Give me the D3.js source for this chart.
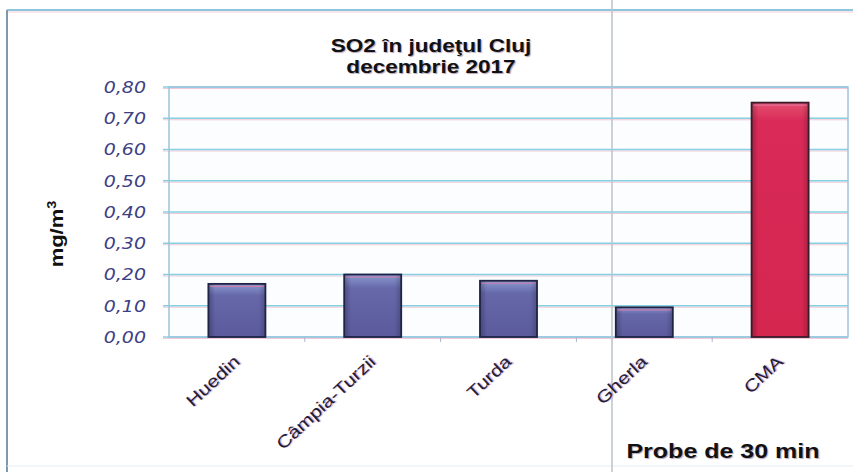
<!DOCTYPE html>
<html>
<head>
<meta charset="utf-8">
<script src="https://cdn.jsdelivr.net/npm/d3@7"></script>
<style>
  body { margin: 0; background: #fff; }
  svg { display: block; font-family: "Liberation Sans", Arial, sans-serif; }
</style>
</head>
<body>
<svg id="chart" width="853" height="472"></svg>
<script>
const stations = ["Huedin", "Câmpia-Turzii", "Turda", "Gherla", "CMA"];
const so2Values = [0.17, 0.20, 0.18, 0.095, 0.75];
const yTicks = [0, 0.1, 0.2, 0.3, 0.4, 0.5, 0.6, 0.7, 0.8];
const titleLines = ["SO2 în judeţul Cluj", "decembrie 2017"];

// the scanned chart is stretched sideways, text included
const STRETCH = 1.22;

const svg = d3.select("#chart");
const plot = {left: 169, right: 848, top: 87, bottom: 337};

const x = d3.scaleBand()
  .domain(stations)
  .range([plot.left, plot.right])
  .paddingInner(0.58)
  .paddingOuter(0.29);

const y = d3.scaleLinear()
  .domain([0, 0.8])
  .range([plot.bottom, plot.top]);

// gradients for the bars
const defs = svg.append("defs");
const blue = defs.append("linearGradient").attr("id", "blueBar").attr("x1", 0).attr("y1", 0).attr("x2", 0).attr("y2", 1);
blue.append("stop").attr("offset", "0%").attr("stop-color", "#8a9ad0");
blue.append("stop").attr("offset", "22%").attr("stop-color", "#6668aa");
blue.append("stop").attr("offset", "100%").attr("stop-color", "#5a5a9c");
const red = defs.append("linearGradient").attr("id", "redBar").attr("x1", 0).attr("y1", 0).attr("x2", 0).attr("y2", 1);
red.append("stop").attr("offset", "0%").attr("stop-color", "#e4506f");
red.append("stop").attr("offset", "8%").attr("stop-color", "#d92a58");
red.append("stop").attr("offset", "100%").attr("stop-color", "#d4264f");
const shade = defs.append("linearGradient").attr("id", "sideShade");
shade.append("stop").attr("offset", "0%").attr("stop-color", "#000").attr("stop-opacity", 0.25);
shade.append("stop").attr("offset", "12%").attr("stop-color", "#000").attr("stop-opacity", 0);
shade.append("stop").attr("offset", "88%").attr("stop-color", "#000").attr("stop-opacity", 0);
shade.append("stop").attr("offset", "100%").attr("stop-color", "#000").attr("stop-opacity", 0.2);

// scanned page frame
svg.append("line").attr("x1", 7).attr("x2", 853).attr("y1", 10).attr("y2", 10)
  .attr("stroke", "#8ec6dc").attr("stroke-width", 2);
svg.append("line").attr("x1", 7).attr("x2", 853).attr("y1", 12).attr("y2", 12)
  .attr("stroke", "#e7a9c0").attr("stroke-width", 1).attr("opacity", 0.6);
svg.append("line").attr("x1", 7).attr("x2", 7).attr("y1", 10).attr("y2", 472)
  .attr("stroke", "#7f98ad").attr("stroke-width", 2);
svg.append("line").attr("x1", 7).attr("x2", 853).attr("y1", 466).attr("y2", 466)
  .attr("stroke", "#e6eef3").attr("stroke-width", 1);

// plot background and gridlines
svg.append("rect")
  .attr("x", plot.left).attr("y", plot.top)
  .attr("width", plot.right - plot.left).attr("height", plot.bottom - plot.top)
  .attr("fill", "#fbfdff");

const grid = svg.append("g");
grid.selectAll("line.pink").data(yTicks).join("line")
  .attr("class", "pink")
  .attr("x1", plot.left - 6).attr("x2", plot.right)
  .attr("y1", d => y(d) + 1.5).attr("y2", d => y(d) + 1.5)
  .attr("stroke", "#efb3c8").attr("stroke-width", 1).attr("opacity", 0.7);
grid.selectAll("line.cyan").data(yTicks).join("line")
  .attr("class", "cyan")
  .attr("x1", plot.left - 6).attr("x2", plot.right)
  .attr("y1", d => y(d)).attr("y2", d => y(d))
  .attr("stroke", "#86d0e2").attr("stroke-width", 1.6);

svg.append("rect")
  .attr("x", plot.left).attr("y", plot.top)
  .attr("width", plot.right - plot.left).attr("height", plot.bottom - plot.top)
  .attr("fill", "none").attr("stroke", "#9cc4dc").attr("stroke-width", 1.5);

// fold line of the scan
svg.append("line").attr("x1", 612).attr("x2", 612).attr("y1", 0).attr("y2", 472)
  .attr("stroke", "#b9c3cb").attr("stroke-width", 1.5);

// category tick marks between the bars
svg.append("g").selectAll("line").data(stations.slice(1)).join("line")
  .attr("x1", d => x(d) + x.bandwidth() / 2 - x.step() / 2)
  .attr("x2", d => x(d) + x.bandwidth() / 2 - x.step() / 2)
  .attr("y1", plot.bottom).attr("y2", plot.bottom + 5)
  .attr("stroke", "#a9b5cc").attr("stroke-width", 1);

// bars
const bars = svg.append("g");
bars.selectAll("rect.bar").data(stations).join("rect")
  .attr("class", "bar")
  .attr("x", d => x(d))
  .attr("y", (d, i) => y(so2Values[i]))
  .attr("width", x.bandwidth())
  .attr("height", (d, i) => y(0) - y(so2Values[i]))
  .attr("fill", d => d === "CMA" ? "url(#redBar)" : "url(#blueBar)");
bars.selectAll("rect.shade").data(stations).join("rect")
  .attr("class", "shade")
  .attr("x", d => x(d))
  .attr("y", (d, i) => y(so2Values[i]))
  .attr("width", x.bandwidth())
  .attr("height", (d, i) => y(0) - y(so2Values[i]))
  .attr("fill", "url(#sideShade)")
  .attr("stroke", d => d === "CMA" ? "#3b1a2a" : "#1f2344")
  .attr("stroke-width", 1.8);
// pink highlight under the top edge
bars.selectAll("line").data(stations).join("line")
  .attr("x1", d => x(d) + 2).attr("x2", d => x(d) + x.bandwidth() - 2)
  .attr("y1", (d, i) => y(so2Values[i]) + 2.5).attr("y2", (d, i) => y(so2Values[i]) + 2.5)
  .attr("stroke", "#e07aa5").attr("stroke-width", 1.2).attr("opacity", 0.8);

// y tick labels
svg.append("g").selectAll("text").data(yTicks).join("text")
  .attr("transform", d => `translate(146,${y(d)}) scale(1.15,1)`)
  .attr("text-anchor", "end")
  .attr("dy", "0.36em")
  .attr("font-family", "'DejaVu Sans', Verdana, sans-serif")
  .attr("font-style", "italic")
  .attr("font-size", 16.5)
  .attr("fill", "#3e4084")
  .text(d => d3.format(".2f")(d).replace(".", ","));

// x labels
svg.append("g").selectAll("text").data(stations).join("text")
  .attr("transform", d => `translate(${x(d) + x.bandwidth() / 2 + 4},${plot.bottom + 26}) rotate(-43) scale(${STRETCH},1)`)
  .attr("text-anchor", "end")
  .attr("font-size", 17)
  .attr("fill", "#1e2038")
  .style("text-shadow", "1px 1px 1px #c7a3c8")
  .text(d => d);

// title
svg.append("g").selectAll("text").data(titleLines).join("text")
  .attr("transform", (d, i) => `translate(431,${52 + i * 21}) scale(${STRETCH},1)`)
  .attr("text-anchor", "middle")
  .attr("font-size", 18.5)
  .attr("font-weight", "bold")
  .attr("fill", "#111")
  .style("text-shadow", "1px 1px 1px #b9a6b8")
  .text(d => d);

// y axis title
const yTitle = svg.append("text")
  .attr("transform", `translate(63,234) rotate(-90) scale(${STRETCH},1)`)
  .attr("text-anchor", "middle")
  .attr("font-size", 18)
  .attr("font-weight", "bold")
  .attr("fill", "#111");
yTitle.append("tspan").text("mg/m");
yTitle.append("tspan").attr("dy", -7).attr("font-size", 12).text("3");

// x axis title
svg.append("text")
  .attr("transform", `translate(723,458) scale(${STRETCH},1)`)
  .attr("text-anchor", "middle")
  .attr("font-size", 20.5)
  .attr("font-weight", "bold")
  .attr("fill", "#111")
  .style("text-shadow", "1px 1px 1px #b9a6b8")
  .text("Probe de 30 min");
</script>
</body>
</html>
